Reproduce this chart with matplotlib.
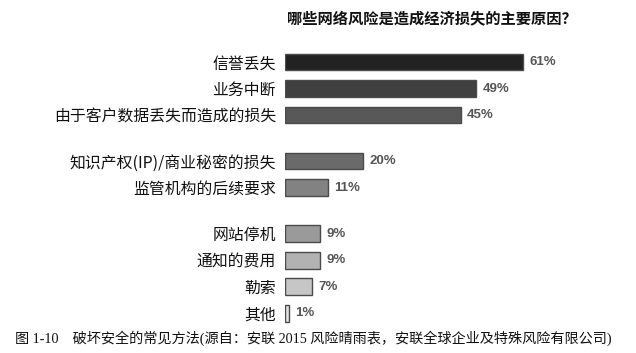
import matplotlib.pyplot as plt

plt.rcParams['font.family'] = ['Noto Sans CJK SC', 'DejaVu Sans']

# data
categories = ['信誉丢失', '业务中断', '由于客户数据丢失而造成的损失',
              '知识产权(IP)/商业秘密的损失', '监管机构的后续要求',
              '网站停机', '通知的费用', '勒索', '其他']
values = [61, 49, 45, 20, 11, 9, 9, 7, 1]
group_sizes = [3, 2, 4]
title = '哪些网络风险是造成经济损失的主要原因？'
caption = '图 1-10　破坏安全的常见方法(源自：安联 2015 风险晴雨表，安联全球企业及特殊风险有限公司)'

colors = ['#222222', '#404040', '#585858', '#6a6a6a', '#828282',
          '#9a9a9a', '#b2b2b2', '#c6c6c6', '#e2e2e2']

# y positions with a gap between groups
positions = []
p = 0.0
for g in group_sizes:
    for i in range(g):
        positions.append(p)
        p += 1
    p += 0.74

W, H = 636, 353
fig = plt.figure(figsize=(W / 100, H / 100), dpi=100)
# pixel layout: bars start at x=285, 3.9 px per percent, rows 26.5 px apart
ax_left, ax_top, ax_bot = 285, 40, 325
ax_w = 330
ax = fig.add_axes([ax_left / W, 1 - ax_bot / H, ax_w / W, (ax_bot - ax_top) / H])
ax.set_xlim(0, ax_w / 3.9)
y0, step = 62, 26.5
ax.set_ylim((ax_bot - y0) / step, (ax_top - y0) / step)

ax.barh(positions, values, height=0.63, color=colors, edgecolor='#4a4a4a', linewidth=1.0)
for y, v in zip(positions, values):
    ax.text(v + 1.6, y, f'{v}%', va='center', ha='left', fontsize=9.5,
            fontweight='bold', color='#555555', family=['Liberation Sans', 'DejaVu Sans'])

ax.set_yticks(positions)
ax.set_yticklabels(categories, fontsize=11.4, color='#111111')
ax.tick_params(axis='y', length=0, pad=6.5)
ax.set_xticks([])
for s in ax.spines.values():
    s.set_visible(False)

fig.text(287 / W, 1 - 18 / H, title, ha='left', va='center', fontsize=11,
         fontweight='bold', color='#111111')
fig.text(15 / W, 1 - 338 / H, caption, ha='left', va='center', fontsize=10.2,
         color='#111111', family=['Liberation Serif', 'Noto Sans CJK SC'])

fig.savefig('out.png', dpi=100)
